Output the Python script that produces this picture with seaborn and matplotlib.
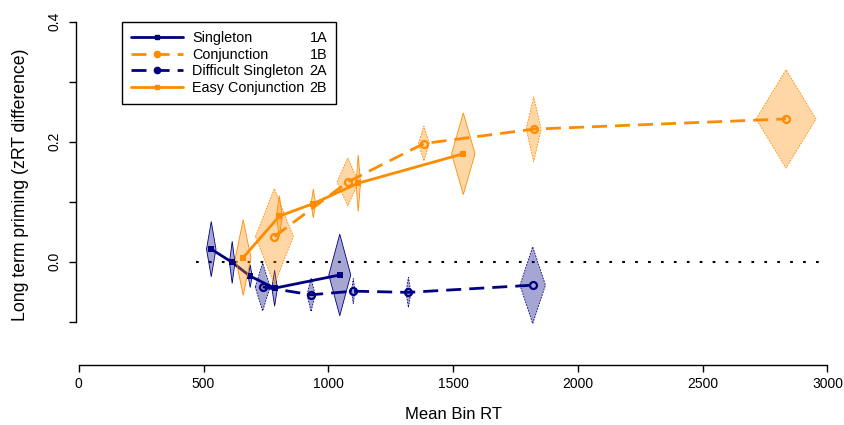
#!/usr/bin/env python3
import matplotlib
matplotlib.use('Agg')
import matplotlib.pyplot as plt
from matplotlib.lines import Line2D
import seaborn as sns
import pandas as pd

# Mean bin RT (ms), long term priming (zRT), RT spread (half width), CI (half height)
singleton_rt = [531, 615, 687, 785, 1046]
singleton_prime = [0.021, -0.001, -0.024, -0.044, -0.022]
singleton_rt_err = [19, 11, 8, 11, 44]
singleton_ci = [0.046, 0.035, 0.019, 0.030, 0.068]

diff_singleton_rt = [737, 931, 1100, 1321, 1819]
diff_singleton_prime = [-0.042, -0.055, -0.049, -0.051, -0.039]
diff_singleton_rt_err = [30, 16, 7, 10, 51]
diff_singleton_ci = [0.040, 0.028, 0.021, 0.025, 0.064]

conjunction_rt = [784, 1078, 1383, 1823, 2834]
conjunction_prime = [0.042, 0.133, 0.197, 0.221, 0.238]
conjunction_rt_err = [76, 43, 22, 30, 120]
conjunction_ci = [0.080, 0.040, 0.029, 0.054, 0.082]

easy_conj_rt = [659, 804, 940, 1120, 1541]
easy_conj_prime = [0.007, 0.076, 0.097, 0.131, 0.180]
easy_conj_rt_err = [31, 12, 9, 9, 47]
easy_conj_ci = [0.063, 0.034, 0.024, 0.047, 0.068]

names = ['Singleton', 'Conjunction', 'Difficult Singleton', 'Easy Conjunction']
codes = ['1A', '1B', '2A', '2B']

NAVY = '#000080'
ORANGE = '#FF8C00'
DASH = (0, (5.4, 2.9))


def draw_series(ax, rt, prime, rt_err, ci, color, dashed, marker, z):
    '''
    Diamonds (RT spread x CI) plus the line through the bin means
    '''
    edge_ls = (0, (2, 1.5)) if dashed else '-'
    for x, y, w, h in zip(rt, prime, rt_err, ci):
        xs = [x - w, x, x + w, x]
        ys = [y, y + h, y, y - h]
        ax.fill(xs, ys, facecolor=color, alpha=0.35, edgecolor='none', zorder=z)
        ax.fill(xs, ys, facecolor='none', edgecolor=color, lw=0.6, ls=edge_ls, zorder=z)

    df = pd.DataFrame({'rt': rt, 'prime': prime})
    if marker == 'o':
        mk = dict(marker='o', ms=5, mfc='none', mec=color, mew=1.6)
    else:
        mk = dict(marker='s', ms=4.2, mfc=color, mec=color, mew=0)
    sns.lineplot(data=df, x='rt', y='prime', color=color, lw=2,
                 linestyle=DASH if dashed else '-', errorbar=None,
                 ax=ax, zorder=z + 1, **mk)


sns.set_theme(style='ticks')
plt.rcParams['font.family'] = ['Liberation Sans', 'DejaVu Sans']
plt.rcParams['text.color'] = 'black'
plt.rcParams['axes.labelcolor'] = 'black'

fig = plt.figure(figsize=(8.45, 4.25), dpi=100)
ax = fig.add_axes([0.0899, 0.1412, 0.8926, 0.8148])

# zero reference
ax.hlines(0, 470, 3000, colors='black', lw=1.5, linestyles=(0, (1.3, 4.9)), zorder=1)

draw_series(ax, singleton_rt, singleton_prime, singleton_rt_err, singleton_ci,
            NAVY, False, 's', 2)
draw_series(ax, diff_singleton_rt, diff_singleton_prime, diff_singleton_rt_err,
            diff_singleton_ci, NAVY, True, 'o', 4)
draw_series(ax, conjunction_rt, conjunction_prime, conjunction_rt_err,
            conjunction_ci, ORANGE, True, 'o', 6)
draw_series(ax, easy_conj_rt, easy_conj_prime, easy_conj_rt_err, easy_conj_ci,
            ORANGE, False, 's', 8)

ax.set_xlim(-11, 3011)
ax.set_ylim(-0.172, 0.405)
ax.set_xticks([0, 500, 1000, 1500, 2000, 2500, 3000])
ax.set_yticks([-0.1, 0.0, 0.1, 0.2, 0.3, 0.4])
ax.set_yticklabels(['', '0.0', '', '0.2', '', '0.4'])
ax.spines['top'].set_visible(False)
ax.spines['right'].set_visible(False)
ax.spines['left'].set_bounds(-0.1, 0.4)
ax.spines['bottom'].set_bounds(0, 3000)
for s in ['left', 'bottom']:
    ax.spines[s].set_color('black')
    ax.spines[s].set_linewidth(1.0)
ax.tick_params(axis='both', length=5, width=1.0, color='black',
               labelsize=10, labelcolor='black')
ax.tick_params(axis='x', pad=3.5)
ax.tick_params(axis='y', pad=5.5)
for lab in ax.get_yticklabels():
    lab.set_rotation(90)
    lab.set_va('center')

ax.set_xlabel('Mean Bin RT', fontsize=12, labelpad=12, color='black')
ax.set_ylabel('Long term priming (zRT difference)', fontsize=12.7, color='black')
ax.yaxis.set_label_coords(-0.062, 0.52)

# legend
handles = [
    Line2D([], [], color=NAVY, lw=2, marker='s', ms=3.5, mec=NAVY, mfc=NAVY),
    Line2D([], [], color=ORANGE, lw=2, ls=DASH, marker='o', ms=4.5, mec=ORANGE, mfc=ORANGE),
    Line2D([], [], color=NAVY, lw=2, ls=DASH, marker='o', ms=4.5, mec=NAVY, mfc=NAVY),
    Line2D([], [], color=ORANGE, lw=2, marker='s', ms=3.5, mec=ORANGE, mfc=ORANGE),
]
leg = ax.legend(handles, names, loc='upper left', mode='expand',
                bbox_to_anchor=(0.061, 0.991, 0.284, 0.0), borderaxespad=0,
                fontsize=10.4, handlelength=3.6, handletextpad=0.6,
                labelspacing=0.18, borderpad=0.65, frameon=True, fancybox=False,
                labelcolor='black')
leg.get_frame().set_edgecolor('black')
leg.get_frame().set_linewidth(1.0)
leg.get_frame().set_alpha(1)

fig.canvas.draw()
frame_bb = leg.get_frame().get_window_extent()
inv = fig.transFigure.inverted()
for t, code in zip(leg.get_texts(), codes):
    bb = t.get_window_extent()
    fx, fy = inv.transform((frame_bb.x1 - 9, (bb.y0 + bb.y1) / 2))
    fig.text(fx, fy, code, ha='right', va='center', fontsize=10.4, color='black')

plt.savefig('out.png', dpi=100)
